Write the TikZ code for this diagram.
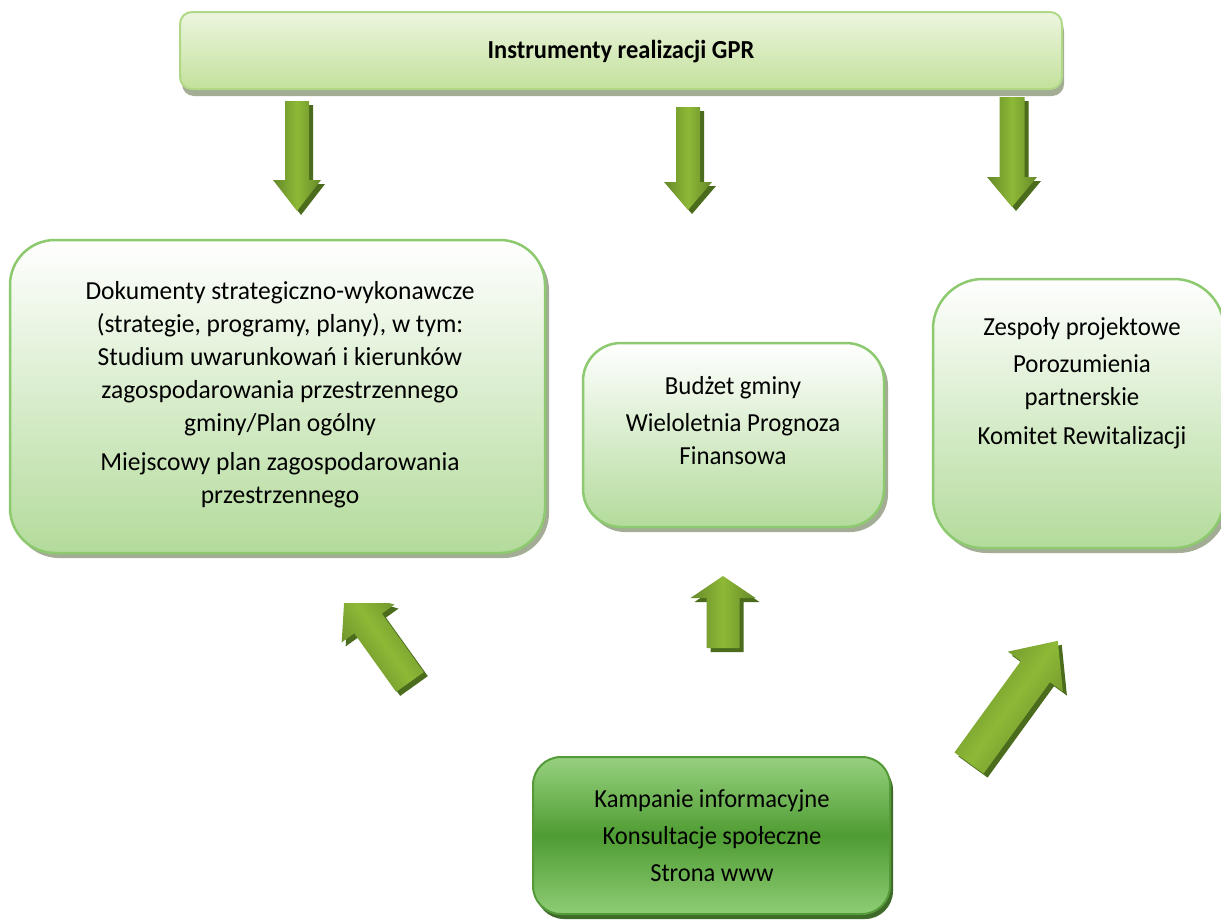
\documentclass[tikz,border=0pt]{standalone}
\usepackage{fontspec}
\setmainfont{Carlito}
\usetikzlibrary{shadows}
\definecolor{boxborder}{HTML}{8CC96F}
\definecolor{boxbottom}{HTML}{B3DB9B}
\definecolor{shadowgray}{HTML}{A3AC94}
\definecolor{bartop}{HTML}{EDF5E0}
\definecolor{barbottom}{HTML}{C3E19B}
\definecolor{barborder}{HTML}{B0D887}
\definecolor{kbtop}{HTML}{97D17F}
\definecolor{kbmid}{HTML}{4F9C33}
\definecolor{kbbottom}{HTML}{8ECC75}
\definecolor{kbborder}{HTML}{559A38}
\definecolor{kbshadow}{HTML}{3F6B2A}
\definecolor{adark}{HTML}{66892A}
\definecolor{alight}{HTML}{8DB936}
\definecolor{ashadow}{HTML}{4B6C1C}
% #1 x, #2 y (tail centre), #3 angle, #4 length, #5 shaft width, #6 head width, #7 head length
\newcommand\garrow[7]{%
  \begin{scope}[shift={(#1+4,#2+4)},rotate=#3]
    \fill[ashadow] (0,-#5/2) -- (#4-#7,-#5/2) -- (#4-#7,-#6/2) -- (#4,0)
      -- (#4-#7,#6/2) -- (#4-#7,#5/2) -- (0,#5/2) -- cycle;
  \end{scope}
  \begin{scope}[shift={(#1,#2)},rotate=#3]
    \shade[top color=adark,bottom color=adark,middle color=alight,shading angle=#3]
      (0,-#5/2) -- (#4-#7,-#5/2) -- (#4-#7,-#6/2) -- (#4,0)
      -- (#4-#7,#6/2) -- (#4-#7,#5/2) -- (0,#5/2) -- cycle;
  \end{scope}}
\newcommand\txtfont[1]{\fontsize{26}{33}\selectfont\addfontfeature{FakeStretch=#1}}
\begin{document}
\begin{tikzpicture}[x=1pt,y=-1pt,
  box/.style={draw=boxborder, line width=2.5pt, top color=white, bottom color=boxbottom,
    general shadow={fill=shadowgray, shadow xshift=4pt, shadow yshift=-5pt}},
  bar/.style={draw=barborder, line width=2pt, top color=bartop, bottom color=barbottom,
    rounded corners=12pt,
    general shadow={fill=shadowgray, shadow xshift=2pt, shadow yshift=-7pt}},
  kbox/.style={draw=kbborder, line width=2pt, top color=kbtop, bottom color=kbbottom,
    middle color=kbmid, rounded corners=28pt,
    general shadow={fill=kbshadow, shadow xshift=3pt, shadow yshift=-5pt}},
  txt/.style={align=center, inner sep=0pt},
]
\useasboundingbox (0,0) rectangle (1221,919);
\fill[white] (0,0) rectangle (1221,919);

% top bar
\node[bar, minimum width=882pt, minimum height=77pt] (gpr) at (621,50.5) {};
\node[txt, font=\txtfont{0.94}\bfseries] (gprt) at (621,52) {Instrumenty realizacji GPR};

% boxes
\node[box, rounded corners=45pt, minimum width=535pt, minimum height=313pt] (docs) at (277.5,396.5) {};
\node[txt, font=\txtfont{0.98}] (docst) at (280,395) {Dokumenty strategiczno-wykonawcze\\
(strategie, programy, plany), w tym:\\
Studium uwarunkowań i kierunków\\
zagospodarowania przestrzennego\\
gminy/Plan ogólny\\[6pt]
Miejscowy plan zagospodarowania\\
przestrzennego};

\node[box, rounded corners=38pt, minimum width=301pt, minimum height=184pt] (budz) at (733.5,435) {};
\node[txt, font=\txtfont{0.955}] (budzt) at (733,421) {Budżet gminy\\[4pt]
Wieloletnia Prognoza\\
Finansowa};

\node[box, rounded corners=50pt, minimum width=291pt, minimum height=269pt] (zesp) at (1078.5,413.5) {};
\node[txt, font=\txtfont{0.955}] (zespt) at (1082,383) {Zespoły projektowe\\[4pt]
Porozumienia\\
partnerskie\\[6pt]
Komitet Rewitalizacji};

\node[kbox, minimum width=357pt, minimum height=157pt] (kamp) at (711.5,835.5) {};
\node[txt, font=\txtfont{0.943}] (kampt) at (712,836) {Kampanie informacyjne\\[4pt]
Konsultacje społeczne\\[4pt]
Strona www};

% arrows
\garrow{297}{101}{-90}{110}{24}{48}{31}
\garrow{688}{107}{-90}{103}{24}{48}{28}
\garrow{1012}{97}{-90}{110}{25}{50}{30}
\garrow{723}{648}{90}{72}{33}{65}{22}
\begin{scope}
  \clip (0,603) rectangle (1221,919);
  \garrow{410}{682}{125.6}{112}{34}{65}{40}
\end{scope}
\garrow{969}{763}{54}{151}{36}{68}{38}
\end{tikzpicture}
\end{document}
